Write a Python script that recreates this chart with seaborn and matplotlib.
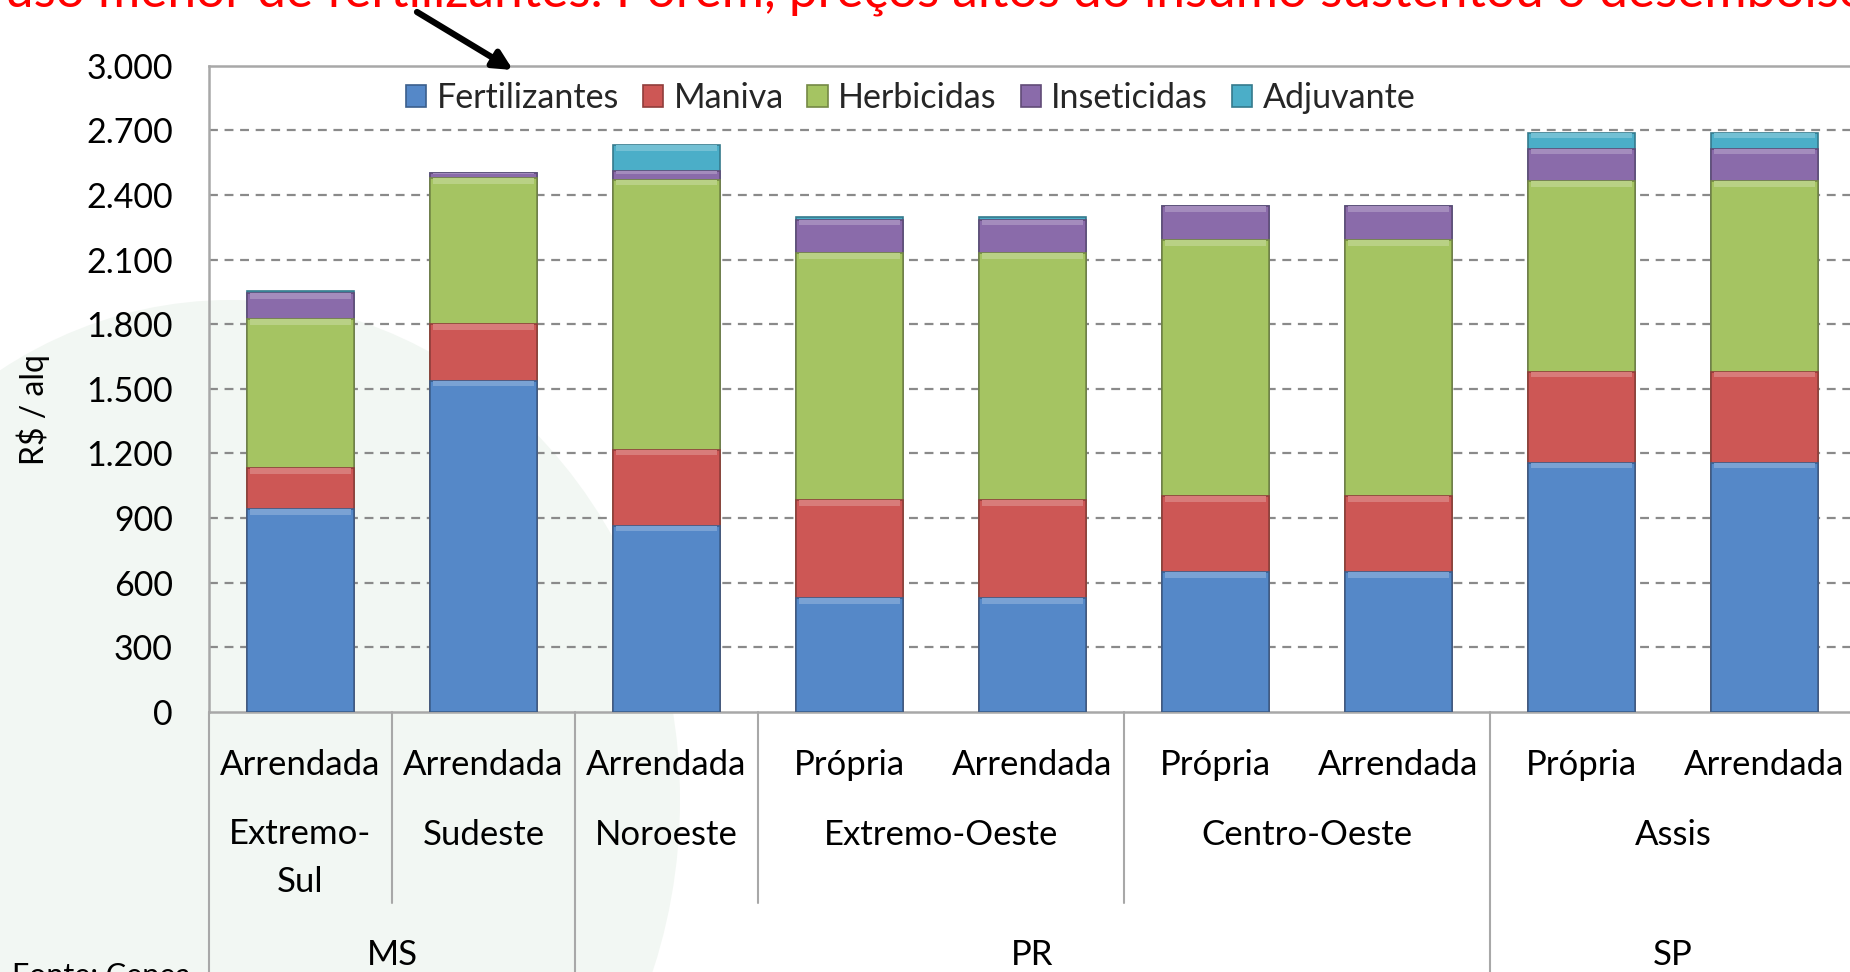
import matplotlib
matplotlib.use("Agg")
import matplotlib.pyplot as plt
import matplotlib.colors as mcolors
import seaborn as sns
import numpy as np
import pandas as pd
from matplotlib.patches import Patch, Ellipse
from matplotlib.ticker import FuncFormatter, MultipleLocator

# ---------------- data ----------------
tenure = ["Arrendada", "Arrendada", "Arrendada", "Própria", "Arrendada",
          "Própria", "Arrendada", "Própria", "Arrendada"]
region = ["Extremo-\nSul", "Sudeste", "Noroeste", "Extremo-Oeste", "Extremo-Oeste",
          "Centro-Oeste", "Centro-Oeste", "Assis", "Assis"]
state = ["MS", "MS", "PR", "PR", "PR", "PR", "PR", "SP", "SP"]

series_names = ["Fertilizantes", "Maniva", "Herbicidas", "Inseticidas", "Adjuvante"]
fertilizantes = [940, 1537, 865, 528, 528, 650, 650, 1158, 1158]
maniva = [193, 264, 353, 455, 455, 351, 351, 422, 422]
herbicidas = [691, 678, 1252, 1147, 1147, 1190, 1190, 884, 884]
inseticidas = [121, 23, 42, 155, 155, 156, 156, 150, 150]
adjuvante = [7, 2, 118, 14, 14, 0, 0, 74, 74]

y_ticks = [0, 300, 600, 900, 1200, 1500, 1800, 2100, 2400, 2700, 3000]

title_text = "uso menor de fertilizantes. Porém, preços altos do insumo sustentou o desembolso"
source_text = "Fonte: Cepea"
y_label = r"R\$ / alq"

colors = ["#5588C8", "#CD5755", "#A5C462", "#8A6BAA", "#4BAEC8"]

# ---------------- figure ----------------
sns.set_theme(style="white")
plt.rcParams["font.family"] = ["Lato", "DejaVu Sans"]

W, H = 1850, 972
fig = plt.figure(figsize=(W / 100, H / 100), dpi=100)
fig.patch.set_facecolor("white")

# faint watermark in a background axes
bg = fig.add_axes([0, 0, 1, 1], zorder=-10)
bg.set_xlim(0, W)
bg.set_ylim(H, 0)
bg.axis("off")
bg.add_patch(Ellipse((230, 800), 900, 1000, facecolor="#eaf2eb", edgecolor="none", alpha=0.6))

x0, x1 = 209, 1856
y_top, y_bot = 65.7, 712
ax = fig.add_axes([x0 / W, 1 - y_bot / H, (x1 - x0) / W, (y_bot - y_top) / H], zorder=1)
ax.set_facecolor("none")

ids = [str(i) for i in range(len(tenure))]
stack = np.array([fertilizantes, maniva, herbicidas, inseticidas, adjuvante], dtype=float)
cum = np.cumsum(stack, axis=0)
bar_w = 0.58

def mix(c, f, other=(1, 1, 1)):
    r = mcolors.to_rgb(c)
    return tuple(a * (1 - f) + b * f for a, b in zip(r, other))

for i in reversed(range(len(series_names))):
    df = pd.DataFrame({"id": ids, "v": cum[i]})
    edge = mix(colors[i], 0.3, (0, 0, 0))
    sns.barplot(data=df, x="id", y="v", order=ids, color=colors[i], saturation=1,
                width=bar_w, edgecolor=edge, linewidth=1.2, ax=ax, zorder=3,
                errorbar=None)

# subtle bevel highlight at top of each segment (derived from the data)
xpos = np.arange(len(ids))
for i in range(len(series_names)):
    seg = stack[i]
    strip = np.where(seg >= 20, np.minimum(seg * 0.3, 26), 0)
    ax.bar(xpos, strip, bottom=cum[i] - strip, width=bar_w * 0.96,
           color=mix(colors[i], 0.22), edgecolor="none", zorder=4)

ax.set_xlim(-0.5, len(ids) - 0.5)
ax.set_ylim(0, 3000)
ax.yaxis.set_major_locator(MultipleLocator(300))
ax.yaxis.set_major_formatter(FuncFormatter(lambda v, p: f"{int(v):,}".replace(",", ".")))
ax.tick_params(axis="y", length=0, pad=26, labelsize=24.5, colors="black")
ax.tick_params(axis="x", length=0, labelbottom=False)
ax.set_xlabel("")
ax.set_ylabel("")

for t in y_ticks[1:-1]:
    ax.axhline(t, color="#8a8a8a", lw=1.6, ls=(0, (4, 3)), zorder=1)

for s in ["left", "top", "bottom"]:
    ax.spines[s].set_visible(True)
    ax.spines[s].set_color("#a8a8a8")
    ax.spines[s].set_linewidth(1.8)
ax.spines["right"].set_visible(False)

fig.text(33 / W, 1 - 410 / H, y_label, rotation=90, ha="center", va="center",
         fontsize=23, color="black")

# ---------------- multi-level category axis ----------------
tr = ax.get_xaxis_transform()
ph = y_bot - y_top
def ay(ypx):
    return (y_bot - ypx) / ph

lvl1_y, lvl2_y, lvl3_y = ay(765), ay(835), ay(955)
sep_short, sep_long = ay(903), ay(990)
lab_kw = dict(ha="center", va="center", fontsize=25, color="black", transform=tr, clip_on=False)

for i, t in enumerate(tenure):
    ax.text(i, lvl1_y, t, **lab_kw)

def runs(keys):
    out, start = [], 0
    for i in range(1, len(keys) + 1):
        if i == len(keys) or keys[i] != keys[start]:
            out.append((start, i - 1, keys[start]))
            start = i
    return out

reg_keys = list(zip(state, region))
for a, b, k in runs(reg_keys):
    label = k[1]
    yy = lvl2_y if "\n" not in label else ay(858)
    ax.text((a + b) / 2, yy, label, linespacing=1.6, **lab_kw)
for a, b, k in runs(state):
    ax.text((a + b) / 2, lvl3_y, k, **lab_kw)

line_kw = dict(color="#a8a8a8", lw=1.5, transform=tr, clip_on=False)
ax.plot([-0.5, -0.5], [0, sep_long], **line_kw)
for i in range(len(ids) - 1):
    xb = i + 0.5
    if state[i] != state[i + 1]:
        ax.plot([xb, xb], [0, sep_long], **line_kw)
    elif region[i] != region[i + 1]:
        ax.plot([xb, xb], [0, sep_short], **line_kw)

# ---------------- legend ----------------
handles = []
for c in colors:
    handles.append(Patch(facecolor=c, edgecolor=mix(c, 0.3, (0, 0, 0)), linewidth=1.2))
ax.legend(handles, series_names, loc="center", bbox_to_anchor=(0.426, 0.950), ncol=5,
          frameon=False, fontsize=24.5, handlelength=0.6, handleheight=0.6,
          handletextpad=0.3, columnspacing=0.7, borderaxespad=0)

# ---------------- annotations ----------------
fig.text(5 / W, 1 - 7 / H, title_text, color="red", fontsize=37, ha="left", va="baseline")
ax.annotate("", xy=(513 / W, 1 - 70 / H), xytext=(417 / W, 1 - 12 / H),
            xycoords="figure fraction", textcoords="figure fraction",
            arrowprops=dict(arrowstyle="-|>", lw=4.5, color="black", mutation_scale=28,
                            shrinkA=0, shrinkB=0))
fig.text(12 / W, 1 - 962 / H, source_text, fontsize=22, ha="left", va="top", color="black")

fig.savefig("out.png", dpi=100)
